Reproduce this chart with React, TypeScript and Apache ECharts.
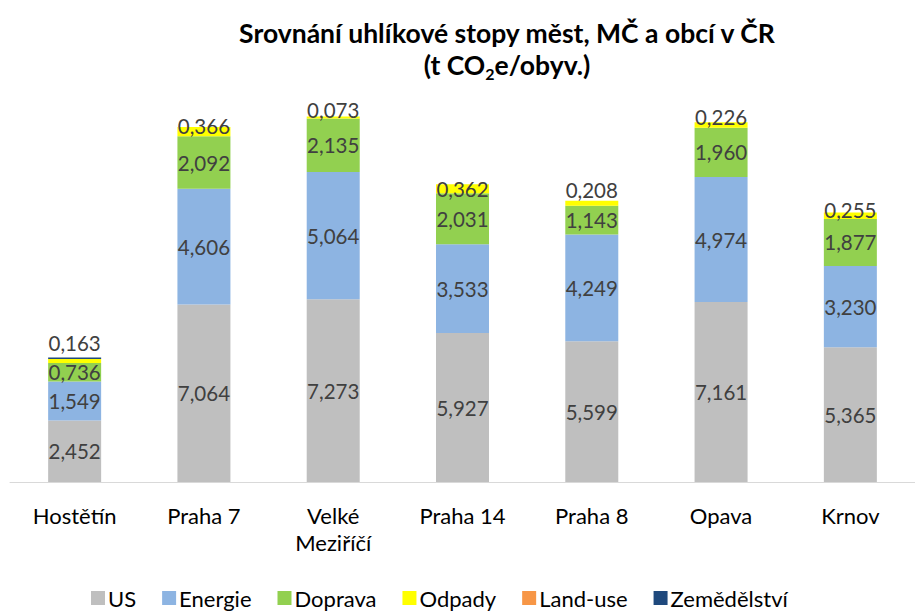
import React, { useEffect, useRef } from "react";
import * as echarts from "echarts";

const categories = ["Hostětín", "Praha 7", "Velké\nMeziříčí", "Praha 14", "Praha 8", "Opava", "Krnov"];
const seriesNames = ["US", "Energie", "Doprava", "Odpady", "Land-use", "Zemědělství"];
const us = [2.452, 7.064, 7.273, 5.927, 5.599, 7.161, 5.365];
const energie = [1.549, 4.606, 5.064, 3.533, 4.249, 4.974, 3.23];
const doprava = [0.736, 2.092, 2.135, 2.031, 1.143, 1.96, 1.877];
const odpady = [0.163, 0.366, 0.073, 0.362, 0.208, 0.226, 0.255];
const landUse = [0, 0, 0, 0, 0, 0, 0];
const zemedelstvi = [0.06, 0, 0, 0, 0, 0, 0];
const colors = ["#BFBFBF", "#8DB4E2", "#92D050", "#FFFF00", "#F79646", "#1F497D"];
// vertical nudges of the Odpady labels (px), as placed in the original
const odpadyLabelOffsets = [-18, -6, -7, 0, -13, -8, -6];

const FONT = "Lato, 'Open Sans', sans-serif";
const fmt = (v: number) => v.toFixed(3).replace(".", ",");

export default function App() {
  const ref = useRef<HTMLDivElement>(null);
  useEffect(() => {
    if (!ref.current) return;
    const chart = echarts.init(ref.current, undefined, { renderer: "svg" });
    const values = [us, energie, doprava, odpady, landUse, zemedelstvi];
    const series = values.map((arr, i) => ({
      name: seriesNames[i],
      type: "bar",
      stack: "total",
      barWidth: 53,
      itemStyle: { color: colors[i] },
      data: arr.map((v, j) => {
        const d: any = { value: v };
        if (i === 3) {
          d.label = { offset: [0, odpadyLabelOffsets[j]] };
        }
        return d;
      }),
      label: {
        show: i < 4,
        position: "inside",
        color: "#404040",
        fontSize: 20.5,
        fontFamily: FONT,
        formatter: (p: any) => fmt(p.value),
      },
    }));
    chart.setOption({
      animation: false,
      title: {
        text: "Srovnání uhlíkové stopy měst, MČ a obcí v ČR\n(t CO{sub|2}e/obyv.)",
        left: 502,
        top: 12,
        textAlign: "center",
        textStyle: {
          fontFamily: FONT,
          fontWeight: "bold",
          fontSize: 26.5,
          color: "#000",
          lineHeight: 32,
          rich: {
            sub: { fontFamily: FONT, fontWeight: "bold", fontSize: 16, verticalAlign: "bottom", padding: [12, 0, 0, 0], lineHeight: 32 },
          },
        },
      },
      legend: {
        bottom: 0,
        left: 86,
        itemWidth: 14,
        itemHeight: 14,
        itemGap: 26,
        icon: "rect",
        textStyle: { fontFamily: FONT, fontSize: 22, color: "#000", padding: [0, 0, 0, -2] },
        data: seriesNames,
      },
      grid: { left: 10, top: 80, width: 920, height: 402, containLabel: false },
      xAxis: {
        type: "category",
        data: categories,
        axisLine: { lineStyle: { color: "#D9D9D9", width: 1 } },
        axisTick: { show: false },
        axisLabel: { fontFamily: FONT, fontSize: 22, color: "#000", margin: 20, lineHeight: 27, interval: 0 },
      },
      yAxis: {
        type: "value",
        min: 0,
        max: 16,
        show: false,
        splitLine: { show: false },
      },
      series,
    });
    return () => chart.dispose();
  }, []);
  return <div ref={ref} style={{ position: "fixed", left: 0, top: 0, width: 915, height: 614, background: "#fff" }} />;
}
